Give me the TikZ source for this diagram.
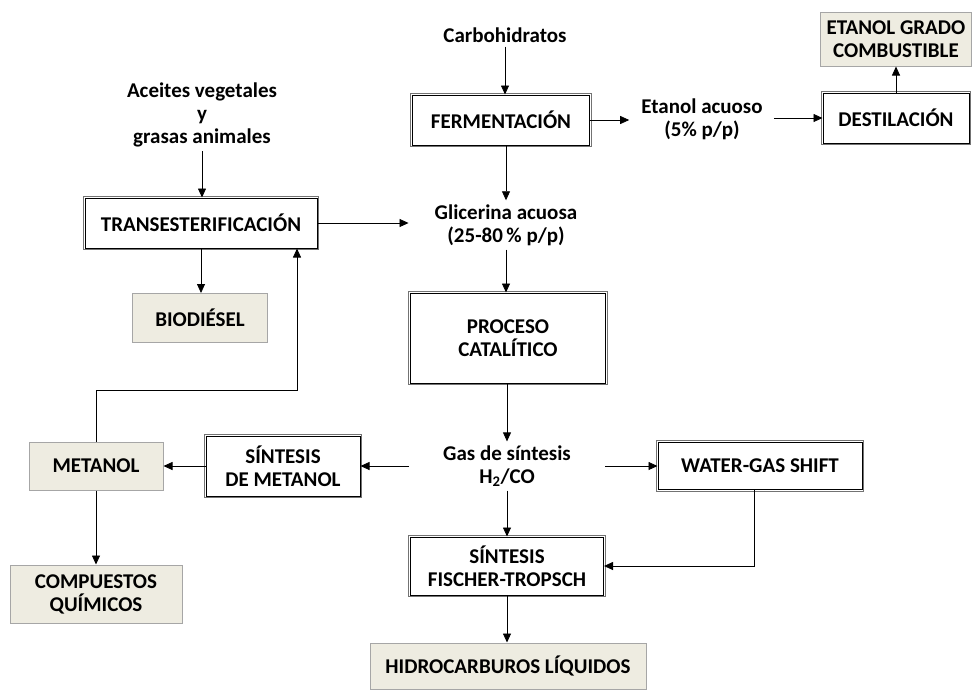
\documentclass[tikz,border=0pt]{standalone}
\usepackage{fontspec}
\setmainfont{Carlito}
\usetikzlibrary{arrows.meta}
\definecolor{boxfill}{HTML}{EEECE1}
\definecolor{boxline}{HTML}{A6A6A6}
\tikzset{
  every node/.style={font=\fontsize{21}{23}\selectfont\bfseries, align=center},
  procbox/.style={rectangle, fill=white, draw=black, line width=1pt,
    preaction={draw=black!55, line width=4.4pt},
    preaction={draw=white, line width=2.6pt},
    inner sep=0pt},
  prodbox/.style={rectangle, fill=boxfill, draw=boxline, line width=1pt, inner sep=0pt},
  txt/.style={inner sep=4pt},
  arr/.style={-{Triangle[length=9pt,width=8pt]}, line width=0.8pt, black},
  ln/.style={line width=0.8pt, black}
}
\begin{document}
\begin{tikzpicture}[x=1pt,y=-1pt]
\useasboundingbox (0,0) rectangle (973,689);
% text nodes
\node[txt] (carb) at (505,35) {Carbohidratos};
\node[txt] (etac) at (702,119) {Etanol acuoso\\(5\% p/p)};
\node[txt] (acei) at (202,115) {Aceites vegetales\\y\\grasas animales};
\node[txt] (glic) at (506,225) {Glicerina acuosa\\(25-80\,\% p/p)};
\node[txt] (gas) at (507,466) {Gas de síntesis\\H\textsubscript{2}/CO};
% process boxes
\node[procbox, minimum width=177pt, minimum height=50pt] (ferm) at (501,120) {FERMENTACIÓN};
\node[procbox, minimum width=146pt, minimum height=50pt] (dest) at (896,118) {DESTILACIÓN};
\node[procbox, minimum width=232pt, minimum height=50pt] (trans) at (201,223) {TRANSESTERIFICACIÓN};
\node[procbox, minimum width=195pt, minimum height=90pt] (proc) at (508,338) {PROCESO\\CATALÍTICO};
\node[procbox, minimum width=204pt, minimum height=47pt] (wgs) at (760,466) {WATER-GAS SHIFT};
\node[procbox, minimum width=193pt, minimum height=58pt] (ft) at (507,566) {SÍNTESIS\\FISCHER-TROPSCH};
\node[procbox, minimum width=154pt, minimum height=60pt] (sdm) at (283,466) {SÍNTESIS\\DE METANOL};
% product boxes
\node[prodbox, minimum width=151pt, minimum height=54pt] (etgc) at (896,39) {ETANOL GRADO\\COMBUSTIBLE};
\node[prodbox, minimum width=135pt, minimum height=49pt] (bio) at (200,318) {BIODIÉSEL};
\node[prodbox, minimum width=276pt, minimum height=46pt] (hidro) at (508,666) {HIDROCARBUROS LÍQUIDOS};
\node[prodbox, minimum width=134pt, minimum height=48pt] (met) at (96,466) {METANOL};
\node[prodbox, minimum width=172pt, minimum height=58pt] (comp) at (96,594) {COMPUESTOS\\QUÍMICOS};
% connectors
\draw[arr] (carb.south) -- (carb.south |- ferm.north);
\draw[arr] (ferm.east) -- ([xshift=-8pt]etac.west |- ferm.east);
\draw[arr] ([xshift=7pt]etac.east |- dest.west) -- (dest.west);
\draw[arr] (dest.north) -- (etgc.south);
\draw[arr] (acei.south) -- (acei.south |- trans.north);
\draw[arr] (trans.east) -- ([xshift=-22pt]glic.west |- trans.east);
\draw[arr] (trans.south) -- (trans.south |- bio.north);
\draw[arr] (glic.north |- ferm.south) -- (glic.north);
\draw[arr] (glic.south) -- (glic.south |- proc.north);
\draw[arr] (gas.north |- proc.south) -- (gas.north);
\draw[arr] ([xshift=-30pt]gas.west) -- (sdm.east);
\draw[arr] ([xshift=30pt]gas.east) -- (wgs.west);
\draw[arr] (gas.south) -- (gas.south |- ft.north);
\coordinate (wgsdown) at ([xshift=-6pt]wgs.south);
\draw[arr] (wgsdown) |- (ft.east);
\draw[arr] (ft.south) -- (ft.south |- hidro.north);
\draw[arr] (sdm.west) -- (met.east);
\draw[arr] (met.south) -- (comp.north);
\coordinate (loopx) at ([xshift=96pt]trans.south);
\coordinate (loopy) at (0,390);
\draw[arr] (met.north) |- (loopx |- loopy) -- (loopx);
\end{tikzpicture}
\end{document}
